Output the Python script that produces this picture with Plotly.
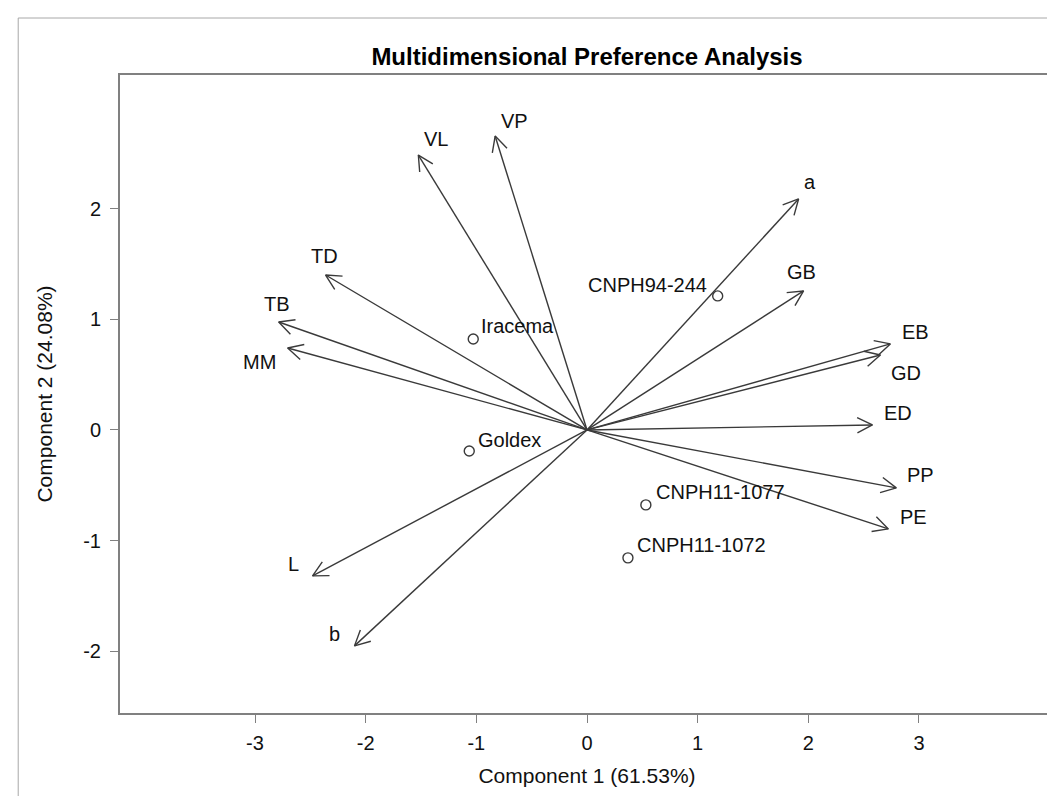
import math
import plotly.graph_objects as go

# ---- data ----
var_names = ["VL", "VP", "TD", "TB", "MM", "a", "GB", "EB", "GD", "ED", "PP", "PE", "L", "b"]
var_x = [-1.524, -0.830, -2.362, -2.786, -2.705, 1.912, 1.957, 2.741, 2.651, 2.579, 2.795, 2.723, -2.480, -2.101]
var_y = [2.486, 2.658, 1.401, 0.976, 0.741, 2.089, 1.257, 0.778, 0.678, 0.045, -0.524, -0.895, -1.320, -1.953]

obs_names = ["Iracema", "CNPH94-244", "Goldex", "CNPH11-1077", "CNPH11-1072"]
obs_x = [-1.028, 1.181, -1.064, 0.532, 0.370]
obs_y = [0.823, 1.212, -0.190, -0.678, -1.157]

x_ticks = [-3, -2, -1, 0, 1, 2, 3]
y_ticks = [-2, -1, 0, 1, 2]

# ---- layout / style ----
W, H = 1055, 796
ML, MR, MT, MB = 112, 7, 67, 91
XR = [-4.22, 4.22]
YR = [-2.56, 3.21]
FONT = "Liberation Sans, Arial, sans-serif"
INK = "#3a3a3a"
FRAME = "#808080"

plot_w = W - ML - MR
plot_h = H - MT - MB
kx = plot_w / (XR[1] - XR[0])
ky = plot_h / (YR[1] - YR[0])

# label offsets (pixels) for vector labels
var_off = {
    "VL": (18, 16), "VP": (19, 15), "TD": (-1, 19), "TB": (-2, 18), "MM": (-28, -14),
    "a": (11, 17), "GB": (-2, 19), "EB": (25, 12), "GD": (26, -18), "ED": (26, 12),
    "PP": (24, 13), "PE": (25, 12), "L": (-19, 12), "b": (-20, 12),
}
# observation label placement: (xanchor, xshift, yshift)
obs_off = {
    "Iracema": ("left", 6, 13), "CNPH94-244": ("right", -9, 11), "Goldex": ("left", 7, 11),
    "CNPH11-1077": ("left", 8, 13), "CNPH11-1072": ("left", 7, 13),
}

HEAD_LEN = 17.0
HEAD_ANG = math.radians(27)

lx, ly = [], []
for x, y in zip(var_x, var_y):
    lx += [0, x, None]
    ly += [0, y, None]
    px, py = x * kx, y * ky
    ang = math.atan2(py, px)
    for s in (1, -1):
        a = ang + math.pi + s * HEAD_ANG
        hx = x + HEAD_LEN * math.cos(a) / kx
        hy = y + HEAD_LEN * math.sin(a) / ky
        lx += [hx, x]
        ly += [hy, y]
    lx.append(None)
    ly.append(None)

fig = go.Figure()
fig.add_trace(go.Scatter(x=lx, y=ly, mode="lines",
                         line=dict(color=INK, width=1.4),
                         hoverinfo="skip", showlegend=False))
fig.add_trace(go.Scatter(x=obs_x, y=obs_y, mode="markers",
                         marker=dict(symbol="circle-open", size=10,
                                     color=INK, line=dict(width=1.4, color=INK)),
                         text=obs_names, showlegend=False))

annotations = []
for n, x, y in zip(var_names, var_x, var_y):
    dx, dy = var_off[n]
    annotations.append(dict(x=x, y=y, xref="x", yref="y", text=n, showarrow=False,
                            xshift=dx, yshift=dy, xanchor="center", yanchor="middle",
                            font=dict(family=FONT, size=20, color="#111")))
for n, x, y in zip(obs_names, obs_x, obs_y):
    anc, dx, dy = obs_off[n]
    annotations.append(dict(x=x, y=y, xref="x", yref="y", text=n, showarrow=False,
                            xshift=dx, yshift=dy, xanchor=anc, yanchor="middle",
                            font=dict(family=FONT, size=20, color="#111")))

def px2paper_x(p):
    return (p - ML) / plot_w

def px2paper_y(p):
    return (H - MB - p) / plot_h

shapes = [
    dict(type="line", xref="paper", yref="paper",
         x0=px2paper_x(10), y0=px2paper_y(H), x1=px2paper_x(10), y1=px2paper_y(10),
         line=dict(color="#a8a8a8", width=1)),
    dict(type="line", xref="paper", yref="paper",
         x0=px2paper_x(10), y0=px2paper_y(10), x1=px2paper_x(W), y1=px2paper_y(10),
         line=dict(color="#a8a8a8", width=1)),
]

axis_common = dict(showgrid=False, zeroline=False, showline=True, mirror=True,
                   linecolor=FRAME, linewidth=2, ticks="outside", ticklen=8,
                   tickwidth=1.3, tickcolor=FRAME,
                   tickfont=dict(family=FONT, size=20, color="#111"))

fig.update_layout(
    width=W, height=H, autosize=False,
    margin=dict(l=ML, r=MR, t=MT, b=MB, pad=0),
    paper_bgcolor="white", plot_bgcolor="white",
    title=dict(text="Multidimensional Preference Analysis",
               x=0.5, xref="paper", xanchor="center",
               y=1 - 49 / H, yref="container", yanchor="middle",
               font=dict(family=FONT, size=24, color="#000", weight="bold")),
    xaxis=dict(range=XR, tickvals=x_ticks, ticktext=[str(v) for v in x_ticks],
               ticklabelstandoff=3,
               title=dict(text="Component 1 (61.53%)", standoff=15,
                          font=dict(family=FONT, size=21, color="#111")),
               **axis_common),
    yaxis=dict(range=YR, tickvals=y_ticks, ticktext=[str(v) for v in y_ticks],
               ticklabelstandoff=5,
               title=dict(text="Component 2 (24.08%)", standoff=25,
                          font=dict(family=FONT, size=21, color="#111")),
               **axis_common),
    annotations=annotations,
    shapes=shapes,
)

fig.write_html("out.html")
